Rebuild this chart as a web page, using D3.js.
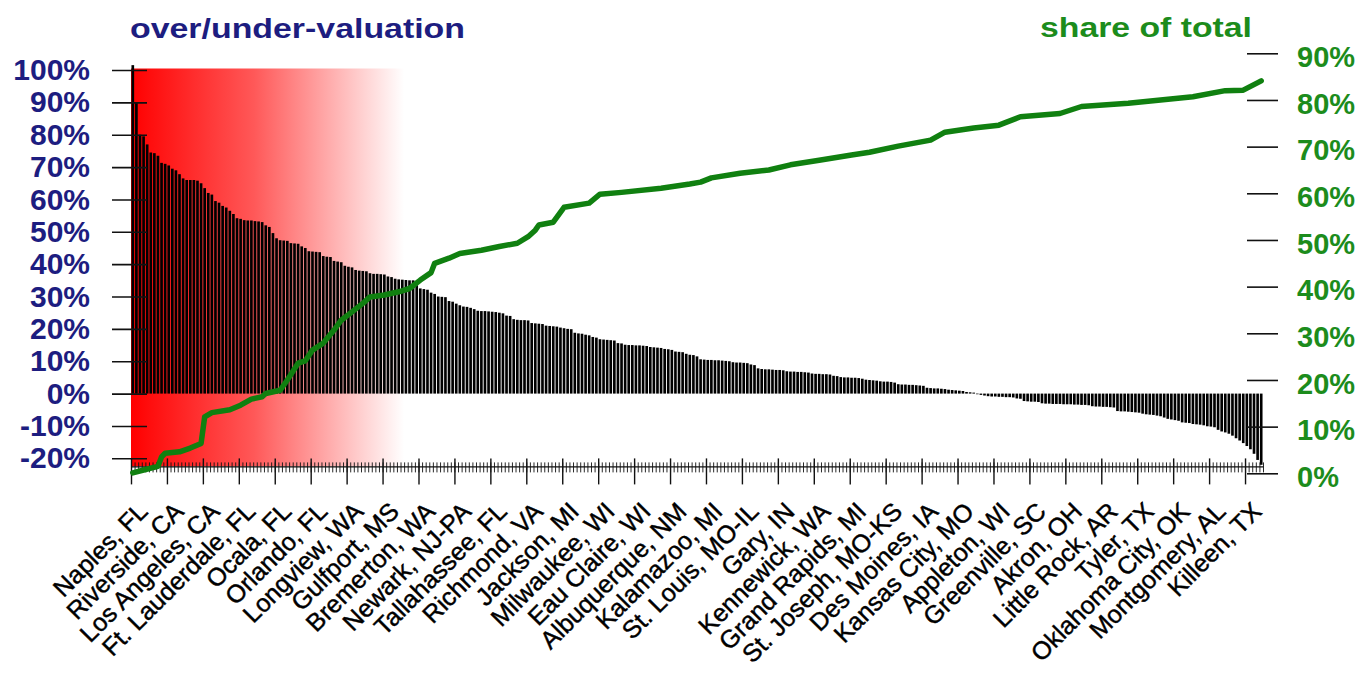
<!DOCTYPE html>
<html>
<head>
<meta charset="utf-8">
<script src="https://cdn.jsdelivr.net/npm/d3@7"></script>
<style>
  html, body { margin: 0; padding: 0; background: #fff; }
  svg { display: block; }
</style>
</head>
<body>
<svg id="chart" width="1362" height="673"></svg>
<script>
// Over/under-valuation per metro area (percent), sorted high to low
const valuation = [
    101.5, 90, 80, 79.5, 77, 74.5, 74.3, 73.5, 71.3, 71.0,
    70.5, 69.5, 69, 67.8, 66.5, 66, 66, 66, 65.8, 65,
    63.5, 62, 61.5, 59.5, 59, 58, 57.5, 56.5, 55.5, 54.2,
    54, 53.6, 53.5, 53.5, 53.3, 53.2, 53, 52, 51.5, 49.6,
    48, 47.4, 47.3, 47.2, 46.5, 46.4, 46.3, 45.5, 45, 44,
    43.9, 43.8, 43.7, 42.5, 42.3, 42.2, 41, 40.8, 40.6, 39.5,
    39.2, 39, 38.2, 38, 37.9, 37.8, 37.2, 37, 37, 36.9,
    36.8, 36.2, 36, 35.5, 35.3, 35.2, 35.1, 35.0, 35.0, 33.5,
    32.5, 32.3, 32.1, 31.2, 30.8, 30.0, 29.9, 29.8, 28.6, 28.4,
    27.8, 27.3, 26.9, 26.8, 26.5, 26.1, 25.6, 25.5, 25.5, 25.4,
    25.3, 25.2, 25.0, 24.8, 24.1, 24.0, 23.0, 22.8, 22.7, 22.7,
    22.6, 21.8, 21.7, 21.6, 21.5, 21.0, 20.9, 20.8, 20.7, 20.4,
    20.2, 20.0, 19.9, 18.8, 18.6, 18.5, 18.2, 18.0, 17.5, 17.3,
    16.8, 16.7, 16.6, 16.5, 16.4, 15.6, 15.5, 15.1, 15.0, 15.0,
    14.9, 14.9, 14.8, 14.7, 14.4, 14.3, 14.2, 14.1, 13.8, 13.7,
    13.5, 13.0, 12.9, 12.8, 12.3, 12.0, 11.9, 11.5, 10.6, 10.5,
    10.4, 10.4, 10.3, 10.3, 10.2, 10.1, 10.0, 9.7, 9.6, 9.6,
    9.5, 9.4, 9.0, 8.8, 7.8, 7.6, 7.5, 7.5, 7.4, 7.3,
    7.3, 7.2, 6.9, 6.8, 6.8, 6.7, 6.7, 6.6, 6.5, 6.2,
    6.1, 6.1, 6.0, 6.0, 5.9, 5.5, 5.4, 5.1, 5.0, 5.0,
    4.9, 4.9, 4.8, 4.6, 4.3, 4.2, 4.1, 4.0, 3.8, 3.7,
    3.7, 3.6, 3.4, 2.9, 2.8, 2.8, 2.7, 2.7, 2.6, 2.5,
    2.4, 1.8, 1.7, 1.6, 1.6, 1.5, 1.4, 1.2, 1.1, 1.0,
    0.9, 0.8, 0.5, 0.4, 0.3, -0.2, -0.4, -0.6, -0.8, -0.9,
    -0.9, -1.0, -1.0, -1.1, -1.1, -1.2, -1.5, -1.6, -2.3, -2.4,
    -2.5, -2.5, -2.6, -3.0, -3.1, -3.1, -3.2, -3.2, -3.2, -3.3,
    -3.3, -3.3, -3.4, -3.4, -3.5, -3.5, -3.6, -3.9, -4.0, -4.0,
    -4.1, -4.1, -4.2, -4.3, -5.4, -5.5, -5.5, -5.6, -5.7, -5.8,
    -5.9, -6.2, -6.4, -6.5, -6.6, -6.8, -7.0, -7.4, -7.8, -8.0,
    -8.2, -8.4, -8.9, -9.0, -9.1, -9.4, -9.5, -9.6, -9.8, -10.1,
    -10.2, -10.4, -11.2, -11.7, -12.0, -12.4, -13.0, -13.8, -14.5, -15.3,
    -16.2, -17.2, -18.6, -20.5, -22.0
];

// One labelled metro every 10 bars
const metroLabels = [
    'Naples, FL', 'Riverside, CA', 'Los Angeles, CA', 'Ft. Lauderdale, FL',
    'Ocala, FL', 'Orlando, FL', 'Longview, WA', 'Gulfport, MS',
    'Bremerton, WA', 'Newark, NJ-PA', 'Tallahassee, FL', 'Richmond, VA',
    'Jackson, MI', 'Milwaukee, WI', 'Eau Claire, WI', 'Albuquerque, NM',
    'Kalamazoo, MI', 'St. Louis, MO-IL', 'Gary, IN', 'Kennewick, WA',
    'Grand Rapids, MI', 'St. Joseph, MO-KS', 'Des Moines, IA', 'Kansas City, MO',
    'Appleton, WI', 'Greenville, SC', 'Akron, OH', 'Little Rock, AR',
    'Tyler, TX', 'Oklahoma City, OK', 'Montgomery, AL', 'Killeen, TX'
];
const labelEvery = 10;

// Cumulative share of total (percent), read at these bar positions
const shareAt = [
    0, 3, 7, 8, 9, 13, 16, 19, 20, 22, 27, 30, 33, 36, 37, 41, 43, 46, 48, 50,
    53, 56, 58, 61, 64, 66, 70, 74, 77, 80, 83, 84, 88, 91, 97, 102, 107, 110, 112, 113,
    117, 120, 127, 130, 136, 147, 155, 158, 161, 169, 177, 183, 191, 200, 205, 213, 222, 226, 234, 241,
    247, 258, 264, 277, 295, 304, 309, 314
];
const shareValue = [
    0.1, 0.7, 1.5, 3.5, 4.3, 4.6, 5.4, 6.4, 12.1, 13.0, 13.6, 14.6, 15.9, 16.4, 17.1, 17.8, 20.0, 23.6, 24.1, 26.4,
    27.9, 30.7, 32.8, 34.6, 36.4, 37.8, 38.2, 38.9, 39.6, 41.4, 43.0, 45.0, 46.1, 47.1, 47.8, 48.6, 49.3, 50.7, 52.1, 53.2,
    53.8, 57.0, 57.9, 59.8, 60.2, 61.1, 62.0, 62.4, 63.3, 64.3, 65.0, 66.1, 67.1, 68.2, 68.8, 70.1, 71.4, 73.1, 74.0, 74.6,
    76.4, 77.1, 78.6, 79.3, 80.7, 82.0, 82.1, 84.1
];

const leftTicks = [-20, -10, 0, 10, 20, 30, 40, 50, 60, 70, 80, 90, 100];
const rightTicks = [0, 10, 20, 30, 40, 50, 60, 70, 80, 90];

// Layout
const plot = { left: 131, right: 1263, top: 70, bottom: 466.4 };
const redZoneBars = 76; // gradient fades out after this many bars
const navy = '#1d1d80';
const green = '#1c8c1c';
const lineGreen = '#108010';

const svg = d3.select('#chart');

// Scales
const n = valuation.length;
const x = d3.scaleBand()
    .domain(d3.range(n))
    .range([plot.left, plot.right])
    .paddingInner(0.26)
    .paddingOuter(0.13);
const xEdge = d3.scaleLinear().domain([0, n]).range([plot.left, plot.right]);
const yLeft = d3.scaleLinear().domain([-22.5, 100]).range([plot.bottom, plot.top]);
const yRight = d3.scaleLinear().domain([0, 90]).range([473.3, 53.3]);

// Red fade behind the most overvalued areas
const grad = svg.append('defs').append('linearGradient')
    .attr('id', 'hot')
    .attr('x1', 0).attr('x2', 1).attr('y1', 0).attr('y2', 0);
grad.append('stop').attr('offset', 0).attr('stop-color', '#ff0000');
grad.append('stop').attr('offset', 0.45).attr('stop-color', '#ff5858');
grad.append('stop').attr('offset', 1).attr('stop-color', '#ffffff');

svg.append('rect')
    .attr('x', xEdge(0))
    .attr('y', yLeft(100) - 1.5)
    .attr('width', xEdge(redZoneBars) - xEdge(0))
    .attr('height', plot.bottom - yLeft(100) + 1.5)
    .attr('fill', 'url(#hot)');

// Bars
svg.append('g')
    .selectAll('rect')
    .data(valuation)
    .join('rect')
    .attr('x', (d, i) => x(i))
    .attr('width', x.bandwidth())
    .attr('y', d => yLeft(Math.max(d, 0)))
    .attr('height', d => Math.abs(yLeft(d) - yLeft(0)))
    .attr('fill', '#000');

// Left axis
const gL = svg.append('g')
    .attr('transform', `translate(${plot.left},0)`)
    .call(d3.axisLeft(yLeft).tickValues(leftTicks).tickSize(19).tickPadding(22).tickFormat(d => d + '%'));
gL.select('.domain').remove();
gL.selectAll('.tick line').attr('x1', 16).attr('stroke', '#111').attr('stroke-width', 1.6);
gL.selectAll('.tick text').attr('fill', navy)
    .style('font', 'bold 30px "Liberation Sans", Arial, sans-serif');

// Right axis
const gR = svg.append('g')
    .attr('transform', `translate(${plot.right},0)`)
    .call(d3.axisRight(yRight).tickValues(rightTicks).tickSize(15).tickPadding(19).tickFormat(d => d + '%'));
gR.select('.domain').remove();
gR.selectAll('.tick line').attr('x1', -16).attr('stroke', '#111').attr('stroke-width', 1.6);
gR.selectAll('.tick text').attr('fill', green).attr('dy', '0.45em')
    .style('font', 'bold 29px "Liberation Sans", Arial, sans-serif');

// Bottom axis: one small tick per metro area
const gMinor = svg.append('g')
    .attr('transform', `translate(0,${plot.bottom})`)
    .call(d3.axisBottom(xEdge).tickValues(d3.range(n + 1)).tickSize(6).tickSizeOuter(0).tickFormat(''));
gMinor.select('.domain').attr('stroke', '#111').attr('stroke-width', 1.2);
gMinor.selectAll('.tick line').attr('y1', -4).attr('stroke', '#111').attr('stroke-width', 0.9);

// Bottom axis: long ticks and names every 10 areas
const gMajor = svg.append('g')
    .attr('transform', `translate(0,${plot.bottom})`)
    .call(d3.axisBottom(xEdge)
        .tickValues(d3.range(0, n, labelEvery))
        .tickSize(18)
        .tickFormat(d => metroLabels[d / labelEvery]));
gMajor.select('.domain').remove();
gMajor.selectAll('.tick line').attr('y1', -8).attr('stroke', '#111').attr('stroke-width', 1.4);
gMajor.selectAll('.tick text')
    .attr('x', 0).attr('y', 0).attr('dy', '0.71em')
    .attr('text-anchor', 'end')
    .attr('transform', 'translate(5,34) rotate(-45)')
    .attr('fill', '#000')
    .attr('stroke', '#000')
    .attr('stroke-width', 0.45)
    .style('font', '25px "Liberation Sans", Arial, sans-serif');

// Cumulative share line
const shareLine = d3.line()
    .x(d => x(d[0]) + x.bandwidth() / 2)
    .y(d => yRight(d[1]));
svg.append('path')
    .datum(d3.zip(shareAt, shareValue))
    .attr('fill', 'none')
    .attr('stroke', lineGreen)
    .attr('stroke-width', 5.5)
    .attr('stroke-linejoin', 'round')
    .attr('stroke-linecap', 'round')
    .attr('d', shareLine);

// Titles
svg.append('text')
    .attr('x', 130).attr('y', 37.5)
    .attr('textLength', 335).attr('lengthAdjust', 'spacingAndGlyphs')
    .attr('fill', navy)
    .style('font', 'bold 28px "Liberation Sans", Arial, sans-serif')
    .text('over/under-valuation');

svg.append('text')
    .attr('x', 1040).attr('y', 36.5)
    .attr('textLength', 212).attr('lengthAdjust', 'spacingAndGlyphs')
    .attr('fill', green)
    .style('font', 'bold 28px "Liberation Sans", Arial, sans-serif')
    .text('share of total');
</script>
</body>
</html>
